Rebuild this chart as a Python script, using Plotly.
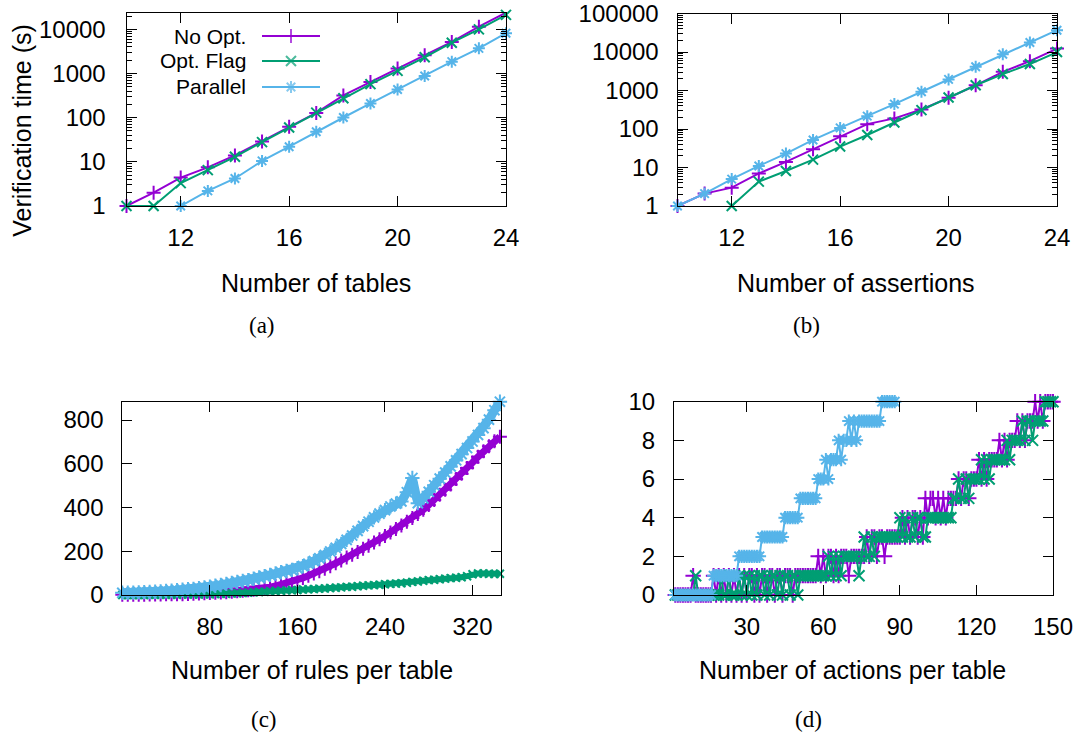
import plotly.graph_objects as go

W, H = 1083, 736
PURPLE = '#9400D3'
GREEN = '#009E73'
BLUE = '#56B4E9'
SANS = 'Liberation Sans, Arial, Helvetica, sans-serif'
SERIF = 'Liberation Serif, Times New Roman, serif'

# ---------------- data ----------------
series_names = ['No Opt.', 'Opt. Flag', 'Parallel']

# (a) number of tables
a_x = list(range(10, 25))
a_noopt = [1, 2, 4.4, 7.5, 14, 29, 62, 128, 320, 640, 1300, 2600, 5200, 11500, 24000]
a_flag = [1, 1, 3.3, 6.5, 13, 28, 60, 130, 275, 575, 1150, 2330, 5000, 10000, 21300]
a_par_x = list(range(12, 25))
a_par = [1, 2.2, 4.2, 10.5, 22, 48, 101, 210, 436, 880, 1860, 3720, 8200]

# (b) number of assertions
b_x = list(range(10, 25))
b_noopt = [1, 2.1, 3, 7, 14, 30, 65, 134, 189, 322, 647, 1370, 3070, 5800, 12300]
b_flag_x = list(range(12, 25))
b_flag = [1, 4.3, 8.1, 16, 35, 70, 148, 310, 660, 1370, 2680, 4880, 10000]
b_par = [1, 2.1, 5, 11, 23, 52, 107, 216, 444, 930, 1950, 4140, 8760, 17700, 37000]

# (c) number of rules per table
c_x = list(range(0, 350, 5))
c_noopt = [1, 1, 1, 1, 1, 2, 2, 2, 3, 3,
           4, 4, 5, 6, 7, 8, 9, 10, 12, 13,
           15, 17, 19, 22, 24, 27, 31, 36, 41, 47,
           54, 61, 69, 78, 88, 98, 109, 120, 132, 145,
           158, 171, 184, 197, 211, 225, 240, 255, 270, 286,
           302, 318, 335, 352, 370, 390, 412, 435, 458, 481,
           505, 530, 555, 581, 606, 632, 657, 680, 703, 724]
c_flag = [0, 0, 0, 0, 0, 1, 1, 1, 1, 1,
          1, 2, 2, 2, 2, 3, 3, 4, 5, 6,
          7, 8, 9, 11, 12, 14, 15, 17, 18, 19,
          21, 22, 23, 25, 26, 27, 29, 30, 32, 33,
          35, 37, 38, 40, 42, 44, 45, 47, 49, 51,
          52, 54, 56, 60, 62, 65, 68, 70, 72, 75,
          77, 79, 81, 86, 95, 98, 98, 97, 96, 97]
c_par = [10, 10, 11, 12, 13, 14, 15, 16, 18, 20,
         22, 24, 26, 28, 31, 34, 38, 42, 46, 51,
         55, 60, 64, 68, 74, 80, 86, 92, 98, 104,
         110, 115, 122, 132, 143, 155, 168, 183, 199, 216,
         234, 252, 272, 293, 315, 335, 355, 372, 388, 405,
         418, 428, 470, 535, 420, 442, 472, 502, 532, 560,
         588, 616, 644, 672, 702, 732, 763, 802, 845, 884]

# (d) number of actions per table
d_x = list(range(1, 151))
d_noopt = ([0] * 8 + [1] + [0] * 7
           + [1, 0, 1, 0, 1, 0, 1, 0, 1, 0, 1, 0]
           + [1, 0, 1, 1, 0, 1, 0, 1, 1, 0, 1, 1, 0, 1, 1, 0, 1, 1, 1, 0]
           + [1] * 9
           + [2, 1, 2, 1, 2, 2, 1, 2, 1]
           + [2, 2, 2] + [1] + [2] * 5
           + [2, 3, 2, 3, 3, 2, 3, 3, 2]
           + [3] * 6
           + [4, 3, 4, 3, 4, 4, 3, 4, 3]
           + [5, 4, 5, 5, 4, 5, 4, 5, 4]
           + [5] * 4
           + [6, 5, 6, 6, 5]
           + [6] * 3
           + [7, 6, 7, 6]
           + [7] * 4
           + [8, 7, 8, 7]
           + [8] * 3
           + [9, 8, 9, 8]
           + [9] * 3
           + [10, 9, 10, 9, 10]
           + [10] * 3)
d_flag = ([0] * 9 + [1] + [0] * 7
          + [0, 0, 1, 0, 0, 1, 0, 0, 0, 1, 0, 1, 0]
          + [1, 0, 1, 0, 1, 1, 0, 1, 0, 1, 1, 0, 1, 0, 1, 1, 0, 1, 1, 0]
          + [1] * 11
          + [2, 1, 2, 1, 2, 1]
          + [2] * 6 + [1] + [2] + [3]
          + [2, 2, 3, 2]
          + [3] * 9
          + [4, 3, 4, 3, 3, 4, 3, 4, 4, 3]
          + [3] + [4] * 10
          + [5, 5, 6, 5, 5, 6, 5]
          + [6] * 4
          + [7, 6, 7, 6, 7]
          + [7] * 5
          + [8, 7, 8, 8, 8, 8]
          + [9, 8, 9, 9, 8, 9]
          + [9] * 3
          + [10] * 4)
d_par_x = list(range(1, 89))
d_par = ([0] * 16 + [1] * 10 + [2] * 9 + [3] * 9 + [4] * 6 + [5] * 7
         + [6, 6, 6]
         + [7, 6, 7, 7, 7, 8, 7]
         + [8, 8, 9, 8, 9, 8, 9]
         + [9] * 8
         + [10] * 6)

# ---------------- layout helpers ----------------
def dx(l, r):
    return [l / W, r / W]


def dy(t, b):
    return [1 - b / H, 1 - t / H]


fig = go.Figure()

sym = {'No Opt.': 'cross-thin', 'Opt. Flag': 'x-thin', 'Parallel': 'asterisk'}
col = {'No Opt.': PURPLE, 'Opt. Flag': GREEN, 'Parallel': BLUE}


def add(x, y, name, xa, ya, lw=2, ms=10, mlw=2):
    fig.add_trace(go.Scatter(
        x=x, y=y, name=name, xaxis=xa, yaxis=ya, mode='lines+markers',
        line=dict(color=col[name], width=lw),
        marker=dict(symbol=sym[name], size=ms, color=col[name],
                    line=dict(color=col[name], width=mlw)),
        showlegend=False, cliponaxis=False))


# (a)
add(a_x, a_noopt, 'No Opt.', 'x', 'y')
add(a_x, a_flag, 'Opt. Flag', 'x', 'y')
add(a_par_x, a_par, 'Parallel', 'x', 'y')
# (b)
add(b_x, b_noopt, 'No Opt.', 'x2', 'y2')
add(b_flag_x, b_flag, 'Opt. Flag', 'x2', 'y2')
add(b_x, b_par, 'Parallel', 'x2', 'y2')
# (c)
add(c_x, c_noopt, 'No Opt.', 'x3', 'y3', lw=7, ms=10, mlw=2)
add(c_x, c_flag, 'Opt. Flag', 'x3', 'y3', lw=6, ms=8, mlw=2)
add(c_x, c_par, 'Parallel', 'x3', 'y3', lw=9, ms=12, mlw=2)
# (d)
add(d_x, d_noopt, 'No Opt.', 'x4', 'y4', ms=11)
add(d_x, d_flag, 'Opt. Flag', 'x4', 'y4', ms=11)
add(d_par_x, d_par, 'Parallel', 'x4', 'y4', ms=11)

# legend keys drawn on a pixel overlay axis
leg_rows = [36, 61, 87]
leg_x0, leg_x1, leg_text_right = 262, 320, 248
for name, yy in zip(series_names, leg_rows):
    fig.add_trace(go.Scatter(
        x=[leg_x0, (leg_x0 + leg_x1) / 2, leg_x1], y=[yy, yy, yy],
        xaxis='x5', yaxis='y5', mode='lines+markers', showlegend=False,
        line=dict(color=col[name], width=2),
        marker=dict(symbol=sym[name], size=[0, 10, 0], color=col[name],
                    line=dict(color=col[name], width=2)),
        hoverinfo='skip'))

tickfont = dict(family=SANS, size=24, color='black')
common = dict(showline=True, linecolor='black', linewidth=1, mirror='ticks',
              ticks='inside', ticklen=10, tickwidth=1, tickcolor='black',
              showgrid=False, zeroline=False, tickfont=tickfont, automargin=False,
              ticklabeloverflow='allow')

log_minor = [m * 10 ** k for k in range(0, 5) for m in range(2, 10)]
minor_cfg = dict(ticks='inside', ticklen=5, tickwidth=1, tickcolor='black',
                 tickmode='array', tickvals=log_minor, showgrid=False)

A = (126.5, 506, 12.7, 206)
B = (677.5, 1057, 13.5, 206)
C = (122.3, 501, 401.7, 595)
D = (674, 1053, 401.7, 595)

XS = 10   # x tick label standoff
YS = 13   # y tick label standoff

fig.update_layout(
    width=W, height=H,
    margin=dict(l=0, r=0, t=0, b=0, autoexpand=False),
    paper_bgcolor='white', plot_bgcolor='rgba(0,0,0,0)',
    font=dict(family=SANS, size=21, color='black'),
    xaxis=dict(domain=dx(A[0], A[1]), anchor='y', range=[10, 24],
               tickvals=[12, 16, 20, 24], ticklabelstandoff=XS, **common),
    yaxis=dict(domain=dy(A[2], A[3]), anchor='x', type='log', range=[0, 4.378],
               tickvals=[1, 10, 100, 1000, 10000],
               ticktext=['1', '10', '100', '1000', '10000'],
               minor=minor_cfg, ticklabelstandoff=YS + 2, **common),
    xaxis2=dict(domain=dx(B[0], B[1]), anchor='y2', range=[10, 24],
                tickvals=[12, 16, 20, 24], ticklabelstandoff=XS, **common),
    yaxis2=dict(domain=dy(B[2], B[3]), anchor='x2', type='log', range=[0, 5.002],
                tickvals=[1, 10, 100, 1000, 10000, 100000],
                ticktext=['1', '10', '100', '1000', '10000', '100000'],
                minor=minor_cfg, ticklabelstandoff=YS, **common),
    xaxis3=dict(domain=dx(C[0], C[1]), anchor='y3', range=[0, 346],
                tickvals=[80, 160, 240, 320], ticklabelstandoff=XS, **common),
    yaxis3=dict(domain=dy(C[2], C[3]), anchor='x3', range=[0, 884],
                tickvals=[0, 200, 400, 600, 800], ticklabelstandoff=YS, **common),
    xaxis4=dict(domain=dx(D[0], D[1]), anchor='y4', range=[1.5, 150],
                tickvals=[30, 60, 90, 120, 150], ticklabelstandoff=XS, **common),
    yaxis4=dict(domain=dy(D[2], D[3]), anchor='x4', range=[0, 10],
                tickvals=[0, 2, 4, 6, 8, 10], ticklabelstandoff=YS, **common),
    xaxis5=dict(domain=[0, 1], anchor='y5', range=[0, W], visible=False,
                fixedrange=True, automargin=False),
    yaxis5=dict(domain=[0, 1], anchor='x5', range=[H, 0], visible=False,
                fixedrange=True, automargin=False),
)


def px(x):
    return x / W


def py(y):
    return 1 - y / H


ann = []
for name, yy in zip(series_names, leg_rows):
    ann.append(dict(text=name, x=px(leg_text_right), y=py(yy), xref='paper', yref='paper',
                    xanchor='right', yanchor='middle', showarrow=False,
                    font=dict(family=SANS, size=21, color='black')))

titles = [
    ('Verification time (s)', 21.7, 130, -90),
    ('Number of tables', 316, 283, 0),
    ('Number of assertions', 856, 283, 0),
    ('Number of rules per table', 312, 670, 0),
    ('Number of actions per table', 852, 670, 0),
]
for t, x, y, ang in titles:
    ann.append(dict(text=t, x=px(x), y=py(y), xref='paper', yref='paper',
                    xanchor='center', yanchor='middle', showarrow=False, textangle=ang,
                    font=dict(family=SANS, size=25, color='black')))

panels = [('(a)', 262, 325), ('(b)', 806, 325), ('(c)', 264, 719), ('(d)', 808, 719)]
for t, x, y in panels:
    ann.append(dict(text=t, x=px(x), y=py(y), xref='paper', yref='paper',
                    xanchor='center', yanchor='middle', showarrow=False,
                    font=dict(family=SERIF, size=23, color='black')))

fig.update_layout(annotations=ann)
fig.write_html('out.html', config={'displayModeBar': False},
               post_script="document.body.style.margin='0px';"
                           "document.body.style.overflow='hidden';")
